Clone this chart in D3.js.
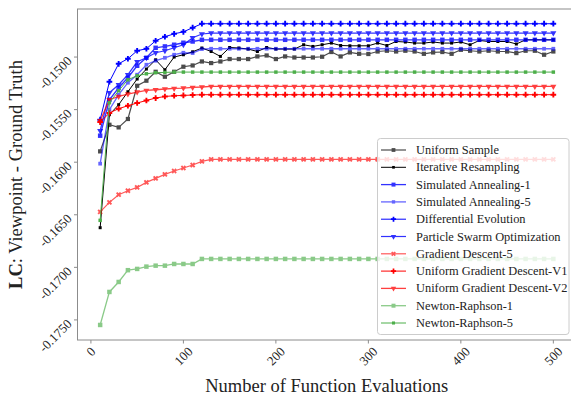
<!DOCTYPE html>
<html><head><meta charset="utf-8">
<script src="https://cdn.jsdelivr.net/npm/d3@7"></script>
<style>body{margin:0;background:#fff}svg{display:block}text{font-family:"Liberation Serif","DejaVu Serif",serif;fill:#222}</style>
</head><body><svg id="c" width="571" height="396"></svg>
<script>
// ---------------- DATA ----------------
const evals = [10,20,30,40,50,60,70,80,90,100,110,120,130,140,150,160,170,180,190,200,
  210,220,230,240,250,260,270,280,290,300,310,320,330,340,350,360,370,380,390,400,
  410,420,430,440,450,460,470,480,490,500];

const uniformSample = [-0.15897,-0.15644,-0.15669,-0.15589,-0.15273,-0.15225,-0.15140,-0.15187,-0.15140,-0.15092,-0.15080,-0.15042,
  -0.15057,-0.15042,-0.15019,-0.15019,-0.15019,-0.14994,-0.14985,-0.15019,-0.14994,-0.15004,-0.15004,-0.15004,-0.14997,-0.14952,-0.14994,-0.14956,-0.14969,-0.14971,-0.14947,
  -0.14940,-0.14947,-0.14940,-0.14947,-0.14969,-0.14956,-0.14952,-0.14969,-0.14931,-0.14940,-0.14947,-0.14940,-0.14947,-0.14947,-0.14962,-0.14940,-0.14940,-0.14978,-0.14947];

const iterativeResampling = [-0.16623,-0.15548,-0.15453,-0.15330,-0.15209,-0.15114,-0.15026,-0.15121,-0.15000,-0.14978,-0.14950,-0.14914,
  -0.14947,-0.14994,-0.14909,-0.14914,-0.14924,-0.14947,-0.14909,-0.14924,-0.14924,-0.14924,-0.14883,-0.14899,-0.14883,-0.14867,-0.14890,-0.14893,-0.14893,-0.14893,-0.14867,
  -0.14890,-0.14852,-0.14857,-0.14867,-0.14867,-0.14857,-0.14867,-0.14867,-0.14857,-0.14883,-0.14842,-0.14852,-0.14852,-0.14852,-0.14876,-0.14836,-0.14836,-0.14836,-0.14836];

const simAnneal1 = [
  -0.15748,-0.15406,-0.15292,-0.15197,-0.15083,-0.15007,-0.14912,-0.14899,-0.14883,-0.14864,
  -0.14852,-0.14836,-0.14836,-0.14836,-0.14836,-0.14836,-0.14836,-0.14836,-0.14836,-0.14836,
  -0.14836,-0.14836,-0.14836,-0.14836,-0.14836,-0.14836,-0.14836,-0.14836,-0.14836,-0.14836,
  -0.14836,-0.14836,-0.14836,-0.14836,-0.14836,-0.14836,-0.14836,-0.14836,-0.14836,-0.14836,
  -0.14836,-0.14836,-0.14836,-0.14836,-0.14836,-0.14836,-0.14836,-0.14836,-0.14836,-0.14836];

const simAnneal5 = [
  -0.16014,-0.15501,-0.15358,-0.15244,-0.15168,-0.15073,-0.15035,-0.15007,-0.14978,-0.14959,
  -0.14962,-0.14924,-0.14921,-0.14921,-0.14921,-0.14921,-0.14921,-0.14921,-0.14921,-0.14921,
  -0.14921,-0.14921,-0.14921,-0.14921,-0.14921,-0.14921,-0.14921,-0.14921,-0.14921,-0.14921,
  -0.14921,-0.14921,-0.14921,-0.14921,-0.14921,-0.14921,-0.14921,-0.14921,-0.14921,-0.14921,
  -0.14921,-0.14921,-0.14921,-0.14921,-0.14921,-0.14921,-0.14921,-0.14921,-0.14921,-0.14921];

const diffEvolution = [
  -0.15596,-0.15235,-0.15064,-0.15016,-0.14940,-0.14921,-0.14845,-0.14807,-0.14779,-0.14760,
  -0.14721,-0.14683,-0.14683,-0.14683,-0.14683,-0.14683,-0.14683,-0.14683,-0.14683,-0.14683,
  -0.14683,-0.14683,-0.14683,-0.14683,-0.14683,-0.14683,-0.14683,-0.14683,-0.14683,-0.14683,
  -0.14683,-0.14683,-0.14683,-0.14683,-0.14683,-0.14683,-0.14683,-0.14683,-0.14683,-0.14683,
  -0.14683,-0.14683,-0.14683,-0.14683,-0.14683,-0.14683,-0.14683,-0.14683,-0.14683,-0.14683];

const particleSwarm = [
  -0.15701,-0.15339,-0.15263,-0.15168,-0.15045,-0.15007,-0.14959,-0.14940,-0.14912,-0.14883,
  -0.14817,-0.14781,-0.14772,-0.14772,-0.14772,-0.14772,-0.14772,-0.14772,-0.14772,-0.14772,
  -0.14772,-0.14772,-0.14772,-0.14772,-0.14772,-0.14772,-0.14772,-0.14772,-0.14772,-0.14772,
  -0.14772,-0.14772,-0.14772,-0.14772,-0.14772,-0.14772,-0.14772,-0.14772,-0.14772,-0.14772,
  -0.14772,-0.14772,-0.14772,-0.14772,-0.14772,-0.14772,-0.14772,-0.14772,-0.14772,-0.14772];

const gradDescent5 = [
  -0.16473,-0.16382,-0.16309,-0.16271,-0.16240,-0.16192,-0.16154,-0.16116,-0.16084,-0.16055,
  -0.16027,-0.15992,-0.15973,-0.15973,-0.15973,-0.15973,-0.15973,-0.15973,-0.15973,-0.15973,
  -0.15973,-0.15973,-0.15973,-0.15973,-0.15973,-0.15973,-0.15973,-0.15973,-0.15973,-0.15973,
  -0.15973,-0.15973,-0.15973,-0.15973,-0.15973,-0.15973,-0.15973,-0.15973,-0.15973,-0.15973,
  -0.15973,-0.15973,-0.15973,-0.15973,-0.15973,-0.15973,-0.15973,-0.15973,-0.15973,-0.15973];

const uniformGDV1 = [
  -0.15618,-0.15532,-0.15491,-0.15463,-0.15437,-0.15413,-0.15390,-0.15375,-0.15368,-0.15365,
  -0.15361,-0.15358,-0.15358,-0.15358,-0.15358,-0.15358,-0.15358,-0.15358,-0.15358,-0.15358,
  -0.15358,-0.15358,-0.15358,-0.15358,-0.15358,-0.15358,-0.15358,-0.15358,-0.15358,-0.15358,
  -0.15358,-0.15358,-0.15358,-0.15358,-0.15358,-0.15358,-0.15358,-0.15358,-0.15358,-0.15358,
  -0.15358,-0.15358,-0.15358,-0.15358,-0.15358,-0.15358,-0.15358,-0.15358,-0.15358,-0.15358];

const uniformGDV2 = [
  -0.15606,-0.15406,-0.15375,-0.15352,-0.15333,-0.15317,-0.15311,-0.15304,-0.15298,-0.15295,
  -0.15289,-0.15285,-0.15279,-0.15279,-0.15279,-0.15279,-0.15279,-0.15279,-0.15279,-0.15279,
  -0.15279,-0.15279,-0.15279,-0.15279,-0.15279,-0.15279,-0.15279,-0.15279,-0.15279,-0.15279,
  -0.15279,-0.15279,-0.15279,-0.15279,-0.15279,-0.15279,-0.15279,-0.15279,-0.15279,-0.15279,
  -0.15279,-0.15279,-0.15279,-0.15279,-0.15279,-0.15279,-0.15279,-0.15279,-0.15279,-0.15279];

const newton1 = [
  -0.17548,-0.17234,-0.17139,-0.17027,-0.17015,-0.16993,-0.16984,-0.16984,-0.16968,-0.16968,
  -0.16968,-0.16920,-0.16920,-0.16920,-0.16920,-0.16920,-0.16920,-0.16920,-0.16920,-0.16920,
  -0.16920,-0.16920,-0.16920,-0.16920,-0.16920,-0.16920,-0.16920,-0.16920,-0.16920,-0.16920,
  -0.16920,-0.16920,-0.16920,-0.16920,-0.16920,-0.16920,-0.16920,-0.16920,-0.16920,-0.16920,
  -0.16920,-0.16920,-0.16920,-0.16920,-0.16920,-0.16920,-0.16920,-0.16920,-0.16920,-0.16920];

const newton5 = [
  -0.16553,-0.15434,-0.15320,-0.15216,-0.15178,-0.15159,-0.15149,-0.15146,-0.15143,-0.15143,
  -0.15143,-0.15143,-0.15143,-0.15143,-0.15143,-0.15143,-0.15143,-0.15143,-0.15143,-0.15143,
  -0.15143,-0.15143,-0.15143,-0.15143,-0.15143,-0.15143,-0.15143,-0.15143,-0.15143,-0.15143,
  -0.15143,-0.15143,-0.15143,-0.15143,-0.15143,-0.15143,-0.15143,-0.15143,-0.15143,-0.15143,
  -0.15143,-0.15143,-0.15143,-0.15143,-0.15143,-0.15143,-0.15143,-0.15143,-0.15143,-0.15143];

const seriesNames = ["Uniform Sample","Iterative Resampling","Simulated Annealing-1","Simulated Annealing-5",
  "Differential Evolution","Particle Swarm Optimization","Gradient Descent-5","Uniform Gradient Descent-V1",
  "Uniform Gradient Descent-V2","Newton-Raphson-1","Newton-Raphson-5"];
const seriesValues = [uniformSample, iterativeResampling, simAnneal1, simAnneal5, diffEvolution, particleSwarm,
  gradDescent5, uniformGDV1, uniformGDV2, newton1, newton5];

const xTicks = [0,100,200,300,400,500];
const xTickLabels = ["0","100","200","300","400","500"];
const yTicks = [-0.175,-0.170,-0.165,-0.160,-0.155,-0.150];
const yTickLabels = ["-0.1750","-0.1700","-0.1650","-0.1600","-0.1550","-0.1500"];

// ---------------- STYLE ----------------
const styles = [
  {color:"#000", alpha:0.7, lw:1.2, marker:"square", size:18},
  {color:"#000", alpha:1.0,  lw:1.0, marker:"square", size:9},
  {color:"#0000ff", alpha:0.8, lw:1.3, marker:"square", size:20},
  {color:"#0000ff", alpha:0.6, lw:1.3, marker:"square", size:14},
  {color:"#0000ff", alpha:1.0, lw:1.0, marker:"plus", size:18},
  {color:"#0000ff", alpha:0.8, lw:1.2, marker:"tridown", size:16},
  {color:"#ff0000", alpha:0.65, lw:1.2, marker:"x", size:18},
  {color:"#ff0000", alpha:1.0, lw:1.0, marker:"plus", size:18},
  {color:"#ff0000", alpha:0.75, lw:1.3, marker:"tridown", size:16},
  {color:"#4daf4a", alpha:0.65, lw:1.3, marker:"square", size:20},
  {color:"#4daf4a", alpha:1.0, lw:1.0, marker:"square", size:12}
];

const svg = d3.select("#c");
const M = {l:77.5, r:576, t:9, b:340};
const x = d3.scaleLinear().domain([-14.5,524.5]).range([M.l,M.r]);
const y = d3.scaleLinear().domain([-0.17691,-0.14543]).range([M.b,M.t]);

function symPath(kind, size){
  const t = kind==="square"?d3.symbolSquare:(kind==="tridown"?d3.symbolTriangle:d3.symbolCross);
  return d3.symbol().type(t).size(size)();
}
function symRot(kind){ return kind==="tridown"?180:(kind==="x"?45:0); }

const plot = svg.append("g");
seriesValues.forEach((vals,k)=>{
  const s = styles[k];
  const pts = evals.map((e,i)=>[e, vals[i]]).filter(p=>p[1]!==undefined);
  const line = d3.line().x(p=>x(p[0])).y(p=>y(p[1]));
  const g = plot.append("g").attr("opacity", s.alpha);
  g.append("path").attr("d", line(pts)).attr("fill","none").attr("stroke",s.color).attr("stroke-width",s.lw);
  g.selectAll("path.m").data(pts).join("path").attr("class","m")
    .attr("d", symPath(s.marker, s.size))
    .attr("transform",p=>`translate(${x(p[0])},${y(p[1])}) rotate(${symRot(s.marker)})`)
    .attr("fill", s.color);
});

// spines
const spine = "#8c8c8c";
svg.append("rect").attr("x",M.l).attr("y",M.t).attr("width",M.r-M.l).attr("height",M.b-M.t)
  .attr("fill","none").attr("stroke",spine).attr("stroke-width",1);

// x ticks
const xt = svg.append("g");
xTicks.forEach((t,i)=>{
  const px = x(t);
  xt.append("line").attr("x1",px).attr("x2",px).attr("y1",M.b).attr("y2",M.b+3.5).attr("stroke",spine);
  const txt = xt.append("text").text(xTickLabels[i]).attr("font-size",13).attr("text-anchor","middle")
    .attr("dominant-baseline","central");
  const L = txt.node().getComputedTextLength();
  const cy = M.b + 7 + (L + 9)/(2*Math.SQRT2) - 1;
  txt.attr("transform",`translate(${px},${cy}) rotate(-45)`);
});
// y ticks
const yt = svg.append("g");
yTicks.forEach((t,i)=>{
  const py = y(t);
  yt.append("line").attr("x1",M.l-3.5).attr("x2",M.l).attr("y1",py).attr("y2",py).attr("stroke",spine);
  yt.append("text").text(yTickLabels[i]).attr("font-size",13).attr("text-anchor","end")
    .attr("dominant-baseline","central").attr("transform",`translate(${M.l-8},${py+1.5}) rotate(-45)`);
});

// axis labels
svg.append("text").attr("x",(M.l+M.r)/2).attr("y",391.5).attr("text-anchor","middle").attr("font-size",18.5)
  .text("Number of Function Evaluations");
const yl = svg.append("text").attr("font-size",18.5).attr("text-anchor","start");
yl.append("tspan").attr("font-weight","bold").text("LC");
yl.append("tspan").text(": Viewpoint - Ground Truth");
const yLen = yl.node().getComputedTextLength();
yl.attr("transform",`translate(22,${174.5 + yLen/2}) rotate(-90)`);

// legend
const lg = svg.append("g");
lg.append("rect").attr("x",377.5).attr("y",138.5).attr("width",191.5).attr("height",196).attr("rx",3)
  .attr("fill","#fff").attr("fill-opacity",0.8).attr("stroke","#cccccc").attr("stroke-width",1);
seriesNames.forEach((n,k)=>{
  const s = styles[k];
  const ly = 150 + k*17.3;
  const g = lg.append("g").attr("opacity", s.alpha);
  g.append("line").attr("x1",381).attr("x2",406).attr("y1",ly).attr("y2",ly).attr("stroke",s.color).attr("stroke-width",s.lw);
  g.append("path").attr("d",symPath(s.marker,s.size*0.8)).attr("fill",s.color)
    .attr("transform",`translate(393.5,${ly}) rotate(${symRot(s.marker)})`);
  lg.append("text").attr("x",416).attr("y",ly).attr("dominant-baseline","central").attr("font-size",12.4).text(n);
});
</script></body></html>
